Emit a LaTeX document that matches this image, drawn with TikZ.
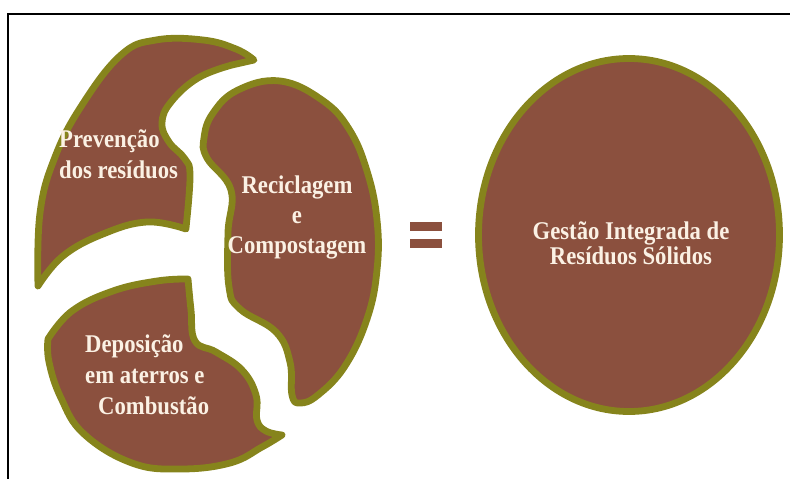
\documentclass[tikz,border=0pt]{standalone}
\usepackage{fontspec}
\setmainfont{Liberation Serif}
\newfontfamily\condserif[FakeStretch=0.89]{Liberation Serif}
\usetikzlibrary{shapes.geometric}
\definecolor{piecebrown}{HTML}{8B503E}
\definecolor{pieceolive}{HTML}{86841C}
\definecolor{piecetext}{HTML}{FBF1E4}
\tikzset{
  piece/.style={fill=piecebrown, draw=pieceolive, line width=6.8pt, line join=round},
  lbl/.style={text=piecetext, inner sep=0pt},
  framefix/.style={line width=1.8pt, draw=black},
  eqbar/.style={fill=piecebrown}
}
\begin{document}
\begin{tikzpicture}[x=1pt,y=-1pt]
\useasboundingbox (0,0) rectangle (790,479);
% frame
\draw[framefix] (7.8,479) -- (7.8,14.2) -- (790,14.2);
% piece 1: Prevencao
\path[piece] plot[smooth, tension=0.7] coordinates {(38,286) (40,213) (55,157) (82,105) (121,55) (156,40) (203,40) (236,49) (254,60)}
  -- plot[smooth, tension=0.7] coordinates {(232,65) (198,78) (171,102) (162,123) (169,142) (185,159) (190,176) (186,228)}
  -- plot[smooth, tension=0.7] coordinates {(186,229) (147,222) (103,234) (63,256) (38,286)} -- cycle;
% piece 2: Reciclagem
\path[piece] plot[smooth cycle, tension=0.7] coordinates {(280,81) (322,100) (349,129) (367,171) (377,220) (377,270) (367,319) (345,366) (318,395) (300,403) (292,395) (290,362) (276,332) (240,309) (229,287) (228,233) (231,190) (207,158) (204,138) (213,113) (238,90)};
% piece 3: Deposicao
\path[piece] plot[smooth, tension=0.7] coordinates {(188,279) (191,310) (195,341) (216,352) (242,370) (256,395) (257,420) (266,431) (282,435)}
  -- plot[smooth, tension=0.7] coordinates {(282,435) (262,447) (230,463) (180,469) (132,463) (84,434) (61,398) (49,362) (48,339)}
  -- plot[smooth, tension=0.7] coordinates {(48,339) (72,311) (113,291) (157,281) (188,279)} -- cycle;
% equals sign
\fill[eqbar] (410,222) rectangle (442,231);
\fill[eqbar] (410,239) rectangle (442,248);
% right ellipse
\node[piece, ellipse, minimum width=301pt, minimum height=353pt, inner sep=0pt] (gestao) at (629,235) {};
% labels
\node[lbl, align=left, anchor=north west, font=\condserif\bfseries\fontsize{25.5}{31}\selectfont] (prev) at (59,129) {\rule{0pt}{18pt}Prevenção\\dos resíduos};
\node[lbl, align=center, anchor=north, font=\condserif\bfseries\fontsize{25.5}{30}\selectfont] (recic) at (297,175) {\rule{0pt}{18pt}Reciclagem\\e\\Compostagem};
\node[lbl, align=left, anchor=north west, font=\condserif\bfseries\fontsize{25.5}{31}\selectfont] (depos) at (85,334) {\rule{0pt}{18pt}Deposição\\em aterros e\\\hspace*{13pt}Combustão};
\node[lbl, align=center, anchor=north, font=\condserif\bfseries\fontsize{25.5}{25}\selectfont] (gestaolbl) at (631,221) {\rule{0pt}{18pt}Gestão Integrada de\\Resíduos Sólidos};
\end{tikzpicture}
\end{document}
